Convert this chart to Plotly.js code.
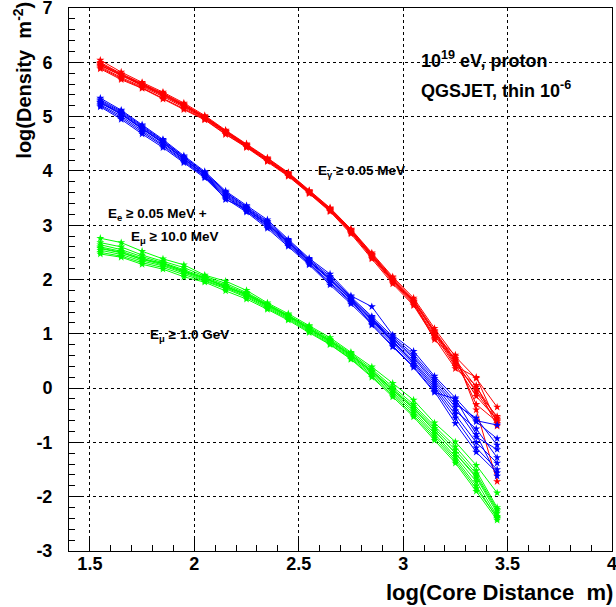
<!DOCTYPE html>
<html>
<head>
<meta charset="utf-8">
<script src="https://cdn.plot.ly/plotly-3.0.1.min.js"></script>
<style>html,body{margin:0;padding:0;background:#fff;}#plot{width:616px;height:607px;}</style>
</head>
<body>
<div id="plot"></div>
<script>
// log10(core distance / m)
const logR = [1.55,1.65,1.75,1.85,1.95,2.05,2.15,2.25,2.35,2.45,2.55,2.65,2.75,2.85,2.95,3.05,3.15,3.25,3.35,3.45];

// Photons, E_gamma >= 0.05 MeV (one row per shower)
const gamma1 = [6.04,5.82,5.63,5.45,5.25,5.02,4.75,4.50,4.24,3.97,3.64,3.32,2.93,2.49,2.05,1.66,1.10,0.58,0.18,-0.35];
const gamma2 = [6.00,5.79,5.61,5.43,5.23,5.00,4.74,4.49,4.23,3.96,3.63,3.31,2.92,2.47,2.03,1.63,1.06,0.52,0.02,-0.55];
const gamma3 = [5.97,5.77,5.59,5.41,5.21,4.99,4.73,4.48,4.22,3.95,3.62,3.30,2.91,2.46,2.01,1.61,1.04,0.50,-0.08,-0.60];
const gamma4 = [5.94,5.75,5.57,5.39,5.19,4.97,4.71,4.46,4.20,3.93,3.61,3.28,2.89,2.44,1.99,1.59,1.02,0.47,-0.05,-0.52];
const gamma5 = [5.92,5.72,5.55,5.37,5.17,4.96,4.70,4.45,4.19,3.92,3.60,3.27,2.87,2.42,1.97,1.56,0.98,0.40,0.20,-0.65];
const gamma6 = [5.90,5.70,5.53,5.34,5.15,4.95,4.68,4.44,4.18,3.91,3.59,3.26,2.86,2.40,1.95,1.54,0.95,0.61,-0.40,-1.72];
const gamma7 = [5.88,5.68,5.52,5.32,5.13,4.94,4.67,4.43,4.17,3.90,3.58,3.25,2.84,2.38,1.92,1.52,0.92,0.36,0.05,-0.70];
const gamma8 = [5.98,5.78,5.60,5.42,5.22,5.00,4.73,4.47,4.21,3.94,3.62,3.29,2.90,2.45,2.00,1.60,1.01,0.44,-0.15,-0.58];
const gamma9 = [5.95,5.76,5.58,5.40,5.20,4.98,4.72,4.46,4.21,3.94,3.61,3.28,2.88,2.43,1.98,1.58,0.89,0.55,-0.30,-0.62];

// Electrons + muons, E_e >= 0.05 MeV + E_mu >= 10 MeV
const elec1 = [5.34,5.12,4.85,4.58,4.28,3.99,3.63,3.36,3.10,2.74,2.39,2.10,1.70,1.50,0.98,0.68,0.22,-0.18,-0.60,-0.68];
const elec2 = [5.31,5.10,4.83,4.56,4.26,3.97,3.61,3.34,3.07,2.72,2.37,2.06,1.68,1.32,0.95,0.62,0.18,-0.25,-0.62,-0.93];
const elec3 = [5.29,5.08,4.81,4.55,4.25,3.96,3.60,3.33,3.05,2.70,2.35,2.03,1.66,1.30,0.92,0.58,0.14,-0.30,-0.55,-1.05];
const elec4 = [5.27,5.06,4.79,4.53,4.23,3.94,3.58,3.31,3.03,2.69,2.34,2.01,1.64,1.28,0.90,0.55,0.10,-0.35,-0.90,-1.13];
const elec5 = [5.25,5.04,4.77,4.51,4.21,3.92,3.56,3.29,3.01,2.67,2.32,1.99,1.62,1.26,0.87,0.50,0.06,-0.42,-0.75,-1.28];
const elec6 = [5.22,5.01,4.74,4.48,4.19,3.90,3.54,3.27,2.99,2.65,2.30,1.96,1.60,1.24,0.85,0.47,0.02,-0.48,-1.00,-1.38];
const elec7 = [5.20,4.98,4.71,4.46,4.17,3.89,3.52,3.26,2.97,2.63,2.29,1.93,1.58,1.21,0.82,0.44,-0.02,-0.55,-1.10,-1.50];
const elec8 = [5.18,4.95,4.68,4.43,4.15,3.87,3.49,3.24,2.94,2.61,2.27,1.90,1.55,1.18,0.78,0.40,-0.06,-0.65,-1.18,-1.56];
const elec9 = [5.26,5.05,4.78,4.52,4.22,3.93,3.47,3.30,3.02,2.68,2.33,2.00,1.63,1.16,0.76,0.38,-0.08,-0.20,-0.85,-1.62];

// Muons, E_mu >= 1.0 GeV
const muon1 = [2.76,2.68,2.52,2.38,2.27,2.08,1.97,1.80,1.57,1.37,1.15,0.93,0.66,0.39,0.09,-0.22,-0.64,-0.99,-1.42,-1.93];
const muon2 = [2.68,2.60,2.45,2.34,2.22,2.06,1.93,1.76,1.55,1.35,1.13,0.90,0.64,0.35,0.02,-0.30,-0.70,-1.08,-1.52,-2.20];
const muon3 = [2.64,2.55,2.42,2.31,2.18,2.04,1.90,1.74,1.54,1.34,1.11,0.88,0.62,0.32,-0.01,-0.34,-0.74,-1.14,-1.58,-2.23];
const muon4 = [2.60,2.52,2.39,2.29,2.16,2.02,1.88,1.72,1.52,1.32,1.09,0.86,0.60,0.30,-0.04,-0.38,-0.79,-1.20,-1.65,-2.30];
const muon5 = [2.57,2.49,2.37,2.27,2.14,2.01,1.87,1.71,1.51,1.31,1.08,0.85,0.58,0.28,-0.07,-0.42,-0.84,-1.26,-1.72,-2.36];
const muon6 = [2.54,2.46,2.34,2.25,2.12,1.99,1.85,1.69,1.49,1.29,1.06,0.83,0.56,0.25,-0.10,-0.46,-0.88,-1.30,-1.80,-2.40];
const muon7 = [2.50,2.43,2.31,2.22,2.09,1.97,1.83,1.67,1.47,1.27,1.04,0.81,0.54,0.22,-0.13,-0.50,-0.92,-1.34,-1.85,-2.38];
const muon8 = [2.47,2.41,2.28,2.19,2.05,1.95,1.79,1.64,1.45,1.25,1.02,0.80,0.53,0.20,-0.16,-0.53,-0.96,-1.38,-1.90,-2.43];
const muon9 = [2.58,2.50,2.37,2.30,2.15,2.03,1.86,1.73,1.53,1.33,1.10,0.87,0.61,0.31,-0.03,-0.37,-0.78,-1.20,-1.62,-2.26];

const xTickVals = [1.5,2,2.5,3,3.5,4];
const xTickText = ['1.5','2','2.5','3','3.5','4'];
const yTickVals = [-3,-2,-1,0,1,2,3,4,5,6,7];
const yTickText = ['-3','-2','-1','0','1','2','3','4','5','6','7'];

const groups = [
  {color:'#ff0000', rows:[gamma1,gamma2,gamma3,gamma4,gamma5,gamma6,gamma7,gamma8,gamma9]},
  {color:'#0000ff', rows:[elec1,elec2,elec3,elec4,elec5,elec6,elec7,elec8,elec9]},
  {color:'#00ff00', rows:[muon1,muon2,muon3,muon4,muon5,muon6,muon7,muon8,muon9]}
];

const traces = [];
groups.forEach(g => g.rows.forEach(r => traces.push({
  x: logR, y: r, type:'scatter', mode:'lines+markers',
  line:{color:g.color, width:1},
  marker:{symbol:'star', size:6, color:g.color, line:{width:0}},
  showlegend:false, hoverinfo:'skip'
})));

const F = 'Liberation Sans, Arial, sans-serif';
const bold = (s,c) => ({family:F, size:s, color:c||'#000', weight:'bold'});

const layout = {
  width:616, height:607,
  margin:{l:69, r:4, t:8, b:56},
  paper_bgcolor:'#fff', plot_bgcolor:'#fff',
  showlegend:false,
  xaxis:{
    range:[1.4,4], showline:true, linecolor:'#000', linewidth:1, mirror:true,
    tickmode:'array', tickvals:xTickVals, ticktext:xTickText,
    ticks:'inside', ticklen:12, tickcolor:'#000', tickwidth:1,
    tickfont:bold(18), ticklabelstandoff:-4, ticklabeloverflow:'allow',
    showgrid:true, gridcolor:'#000', gridwidth:1, griddash:'dot',
    zeroline:false,
    minor:{ticks:'inside', ticklen:6, tickcolor:'#000', dtick:0.1, tick0:1.4, showgrid:false}
  },
  yaxis:{
    range:[-3,7], showline:true, linecolor:'#000', linewidth:1, mirror:true,
    tickmode:'array', tickvals:yTickVals, ticktext:yTickText,
    ticks:'inside', ticklen:12, tickcolor:'#000', tickwidth:1,
    tickfont:bold(18), ticklabelstandoff:12, ticklabeloverflow:'allow',
    showgrid:true, gridcolor:'#000', gridwidth:1, griddash:'dot',
    zeroline:false,
    minor:{ticks:'inside', ticklen:6, tickcolor:'#000', dtick:0.2, tick0:-3, showgrid:false}
  },
  annotations:[
    {xref:'paper', yref:'paper', x:1.006, y:-0.05, xanchor:'right', yanchor:'top',
     text:'log(Core Distance  m)', showarrow:false, font:bold(22)},
    {xref:'paper', yref:'paper', x:-0.085, y:1.016, xanchor:'center', yanchor:'top', textangle:-90,
     text:'log(Density  m<sup>-2</sup>)', showarrow:false, font:bold(20)},
    {xref:'paper', yref:'paper', x:0.645, y:0.905, xanchor:'left', yanchor:'middle',
     text:'10<sup>19</sup> eV, proton', showarrow:false, font:bold(18)},
    {xref:'paper', yref:'paper', x:0.645, y:0.85, xanchor:'left', yanchor:'middle',
     text:'QGSJET, thin 10<sup>-6</sup>', showarrow:false, font:bold(18)},
    {xref:'paper', yref:'paper', x:0.455, y:0.699, xanchor:'left', yanchor:'middle',
     text:'E<sub>γ</sub> ≥ 0.05 MeV', showarrow:false, font:bold(13.5)},
    {xref:'paper', yref:'paper', x:0.068, y:0.62, xanchor:'left', yanchor:'middle',
     text:'E<sub>e</sub> ≥ 0.05 MeV +', showarrow:false, font:bold(13.5)},
    {xref:'paper', yref:'paper', x:0.11, y:0.578, xanchor:'left', yanchor:'middle',
     text:'E<sub>μ</sub> ≥ 10.0 MeV', showarrow:false, font:bold(13.5)},
    {xref:'paper', yref:'paper', x:0.145, y:0.397, xanchor:'left', yanchor:'middle',
     text:'E<sub>μ</sub> ≥ 1.0 GeV', showarrow:false, font:bold(13.5)}
  ]
};

Plotly.newPlot('plot', traces, layout, {staticPlot:true, displayModeBar:false});
</script>
</body>
</html>
